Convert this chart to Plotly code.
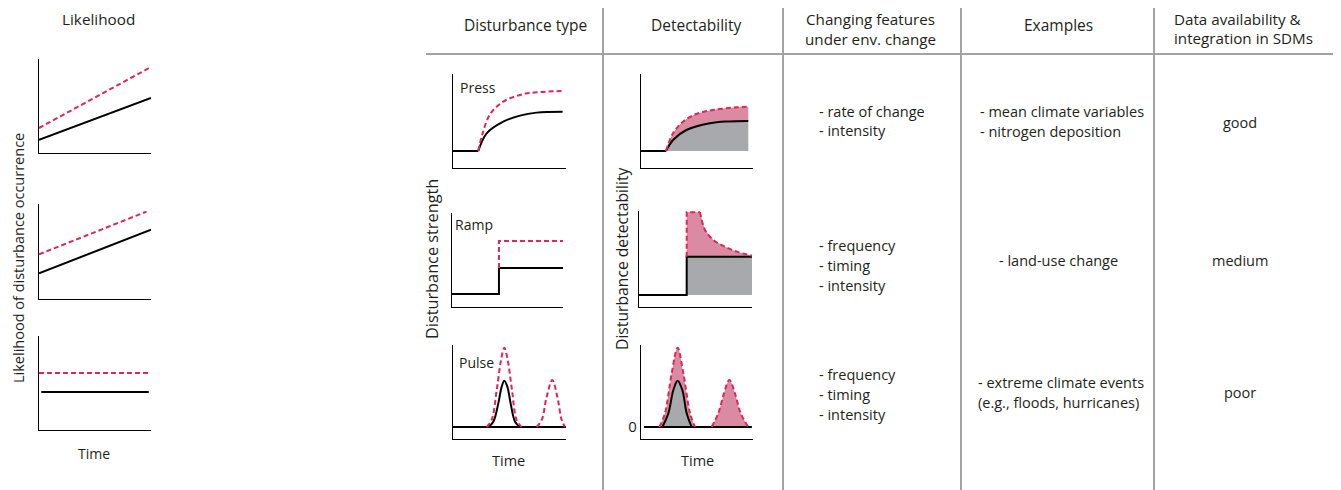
import plotly.graph_objects as go

W, H = 1341, 490          # reference picture size
OX, OY = 8, 8             # page body margin of the browser
FW, FH = W - OX, H - OY   # figure size actually drawn
RED = '#e2245a'
PINK = '#da8aa2'
GREY = '#a8a9ac'
RULE = '#a3a3a3'
INK = '#231f20'
FONT = 'Open Sans'

# ---------------- data (panel units 0..10) ----------------
# Likelihood panels
lik_x = [0, 10]
lik1_black = [1.4, 5.85]
lik1_red = [2.66, 9.15]
lik2_black = [2.7, 7.3]
lik2_red_x = [0, 9.6]
lik2_red = [4.7, 9.2]
lik3_x = [0.2, 9.8]
lik3_black = [4.04, 4.04]
lik3_red_x = [0, 9.8]
lik3_red = [6.06, 6.06]

# Disturbance type: press
press_flat_x = [0, 2.24]
press_flat_y = [1.81, 1.81]
press_black_x = [2.24, 2.98, 4.45, 5.93, 7.4, 9.7]
press_black_y = [1.81, 3.69, 4.93, 5.57, 5.89, 5.99]
press_red_x = [2.24, 2.6, 3.3, 4.45, 5.93, 7.4, 9.76]
press_red_y = [1.81, 3.6, 5.75, 7.06, 7.77, 8.05, 8.19]

# Disturbance type: ramp
ramp_black_x = [0, 4.23, 4.23, 10]
ramp_black_y = [1.38, 1.38, 4.15, 4.15]
ramp_red_x = [4.23, 4.23, 10]
ramp_red_y = [4.15, 7.02, 7.02]

# Disturbance type: pulse
pulse_base = 1.28
pulse_base_x = [0, 10]
pulse_black_x = [3.13, 3.57, 4.01, 4.31, 4.54, 4.81, 5.1, 5.49, 5.93]
pulse_black_y = [1.28, 1.84, 3.79, 5.57, 6.21, 5.57, 3.79, 1.84, 1.28]
pulse_red1_x = [2.98, 3.42, 3.87, 4.25, 4.54, 4.84, 5.22, 5.63, 6.08]
pulse_red1_y = [1.28, 2.02, 5.21, 8.4, 9.72, 8.4, 5.21, 2.02, 1.28]
pulse_red2_x = [7.4, 7.85, 8.29, 8.79, 9.23, 9.62, 9.91]
pulse_red2_y = [1.28, 2.02, 4.5, 6.28, 4.5, 2.02, 1.28]

# Detectability: press
dpress_flat_x = [0, 2.23]
dpress_flat_y = [1.81, 1.81]
dpress_base_x = [2.23, 9.58]
dpress_base_y = [1.81, 1.81]
dpress_black_x = [2.23, 2.86, 4.05, 6.16, 7.8, 9.58]
dpress_black_y = [1.81, 2.98, 4.04, 4.76, 4.95, 5.0]
dpress_red_x = [2.23, 2.86, 3.75, 4.94, 6.43, 8.51, 9.58]
dpress_red_y = [1.81, 3.69, 4.93, 5.74, 6.17, 6.45, 6.52]

# Detectability: ramp
dramp_black_x = [0, 4.22, 4.22, 10]
dramp_black_y = [1.28, 1.28, 5.35, 5.35]
dramp_fill_x = [4.22, 10]
dramp_base_y = [1.28, 1.28]
dramp_top_y = [5.35, 5.35]
dramp_step_x = [4.22, 4.22, 5.4]
dramp_step_y = [5.35, 10.08, 10.08]
dramp_decay_x = [5.4, 5.84, 6.58, 7.46, 8.65, 10]
dramp_decay_y = [10.08, 8.19, 7.13, 6.49, 5.88, 5.45]

# Detectability: pulse
dpulse_base_x = [0.27, 9.9]
dpulse_black_x = [1.9, 2.44, 2.89, 3.27, 3.69, 4.08, 4.52]
dpulse_black_y = [1.28, 2.73, 5.21, 6.2, 5.21, 2.73, 1.28]
dpulse_red1_x = [1.64, 2.14, 2.74, 3.27, 3.78, 4.38, 4.82]
dpulse_red1_y = [1.28, 2.73, 6.99, 9.72, 6.99, 2.73, 1.28]
dpulse_red2_x = [6.31, 6.9, 7.41, 7.89, 8.39, 8.9, 9.58]
dpulse_red2_y = [1.28, 2.73, 4.86, 6.28, 4.86, 2.73, 1.28]


def pxx(px):
    return (px - OX) / FW


def pxy(py):
    return 1 - (py - OY) / FH


# ---------------- panels: (left, right, top, bottom) in reference pixels, y max ----------------
panels = {
    1: (39, 151, 59, 153, 10),
    2: (39, 151, 204, 299, 10),
    3: (39, 151, 336, 430, 10),
    4: (453, 566, 74, 168, 10),
    5: (452, 563, 213, 307, 10),
    6: (453, 566, 345, 439, 10),
    7: (641, 753, 74, 168, 10),
    8: (639, 752, 211, 307, 10.2),
    9: (641, 753, 345, 439, 10),
}

fig = go.Figure()
layout_axes = {}
for i, (x0, x1, yt, yb, ymax) in panels.items():
    sfx = '' if i == 1 else str(i)
    layout_axes['xaxis' + sfx] = dict(
        domain=[pxx(x0), pxx(x1)], range=[0, 10], anchor='y' + sfx,
        showline=True, linecolor='black', linewidth=1.2, showgrid=False,
        zeroline=False, showticklabels=False, ticks='', fixedrange=True)
    layout_axes['yaxis' + sfx] = dict(
        domain=[pxy(yb), pxy(yt)], range=[0, ymax], anchor='x' + sfx,
        showline=True, linecolor='black', linewidth=1.2, showgrid=False,
        zeroline=False, showticklabels=False, ticks='', fixedrange=True)

layout_axes['yaxis9'].update(showticklabels=True, tickvals=[pulse_base],
                             ticktext=['0'], tickfont=dict(family=FONT, size=15, color=INK))


def ax(i):
    s = '' if i == 1 else str(i)
    return dict(xaxis='x' + s, yaxis='y' + s)


def line(i, x, y, color='black', dash=None, shape='linear', width=2.0):
    fig.add_trace(go.Scatter(x=x, y=y, mode='lines',
                             line=dict(color=color, width=width, dash=dash, shape=shape),
                             hoverinfo='skip', showlegend=False, **ax(i)))


def red(i, x, y, shape='linear'):
    line(i, x, y, color=RED, dash='5px,3px', shape=shape, width=2.0)


def fill(i, x, y, color, mode='toself', shape='linear'):
    fig.add_trace(go.Scatter(x=x, y=y, mode='lines', fill=mode, fillcolor=color,
                             line=dict(width=0, shape=shape, color=color),
                             hoverinfo='skip', showlegend=False, **ax(i)))


# Likelihood panels
line(1, lik_x, lik1_black)
red(1, lik_x, lik1_red)
line(2, lik_x, lik2_black)
red(2, lik2_red_x, lik2_red)
line(3, lik3_x, lik3_black)
red(3, lik3_red_x, lik3_red)

# Disturbance type
line(4, press_flat_x, press_flat_y)
line(4, press_black_x, press_black_y, shape='spline')
red(4, press_red_x, press_red_y, shape='spline')

line(5, ramp_black_x, ramp_black_y)
red(5, ramp_red_x, ramp_red_y)

line(6, pulse_base_x, [pulse_base, pulse_base])
line(6, pulse_black_x, pulse_black_y, shape='spline')
red(6, pulse_red1_x, pulse_red1_y, shape='spline')
red(6, pulse_red2_x, pulse_red2_y, shape='spline')

# Detectability: press
fill(7, dpress_base_x, dpress_base_y, 'rgba(0,0,0,0)', mode='none')
fill(7, dpress_black_x, dpress_black_y, GREY, mode='tonexty', shape='spline')
fill(7, dpress_red_x, dpress_red_y, PINK, mode='tonexty', shape='spline')
line(7, dpress_flat_x, dpress_flat_y)
line(7, dpress_black_x, dpress_black_y, shape='spline')
red(7, dpress_red_x, dpress_red_y, shape='spline')

# Detectability: ramp
fill(8, dramp_fill_x, dramp_base_y, 'rgba(0,0,0,0)', mode='none')
fill(8, dramp_fill_x, dramp_top_y, GREY, mode='tonexty')
fill(8, dramp_step_x + dramp_decay_x[1:], dramp_step_y + dramp_decay_y[1:], PINK, mode='tonexty')
line(8, dramp_black_x, dramp_black_y)
red(8, dramp_step_x, dramp_step_y)
red(8, dramp_decay_x, dramp_decay_y, shape='spline')

# Detectability: pulse
fill(9, dpulse_red1_x, dpulse_red1_y, PINK, shape='spline')
fill(9, dpulse_black_x, dpulse_black_y, GREY, shape='spline')
fill(9, dpulse_red2_x, dpulse_red2_y, PINK, shape='spline')
line(9, dpulse_base_x, [pulse_base, pulse_base])
line(9, dpulse_black_x, dpulse_black_y, shape='spline')
red(9, dpulse_red1_x, dpulse_red1_y, shape='spline')
red(9, dpulse_red2_x, dpulse_red2_y, shape='spline')


# ---------------- text ----------------
def text(px, py, s, size=14.5, xanchor='center', angle=0):
    fig.add_annotation(x=pxx(px), y=pxy(py), xref='paper', yref='paper', text=s,
                       showarrow=False, xanchor=xanchor, yanchor='middle', textangle=angle,
                       borderpad=0, font=dict(family=FONT, size=size, color=INK))


text(98, 19, 'Likelihood', 15.3)
text(94, 453, 'Time', 14)
text(18, 258, 'Likelihood of disturbance occurrence', 14.5, angle=-90)

text(525, 25, 'Disturbance type', 15.5)
text(696, 25, 'Detectability', 15.5)
text(870, 19, 'Changing features', 15.2)
text(870, 39, 'under env. change', 15.2)
text(1058, 25, 'Examples', 15.5)
text(1173, 18.5, 'Data availability &', 15.2, xanchor='left')
text(1173, 38, 'integration in SDMs', 15.2, xanchor='left')

text(432, 259, 'Disturbance strength', 16.3, angle=-90)
text(622, 259, 'Disturbance detectability', 15.7, angle=-90)
text(508, 460, 'Time', 14.5)
text(697, 460, 'Time', 14.5)

text(459, 88, 'Press', 14, xanchor='left')
text(454, 225, 'Ramp', 14, xanchor='left')
text(458, 362, 'Pulse', 14, xanchor='left')

feat_rows = [
    (['- rate of change', '- intensity'], 111),
    (['- frequency', '- timing', '- intensity'], 245),
    (['- frequency', '- timing', '- intensity'], 374),
]
for lines, y0 in feat_rows:
    for k, s in enumerate(lines):
        text(818, y0 + 20 * k, s, 14.5, xanchor='left')

text(979, 111, '- mean climate variables', 14.5, xanchor='left')
text(979, 132, '- nitrogen deposition', 14.5, xanchor='left')
text(1058, 260, '- land-use change', 14.5)
text(977, 382, '- extreme climate events', 14.5, xanchor='left')
text(977, 402, '(e.g., floods, hurricanes)', 14.5, xanchor='left')

text(1240, 122, 'good', 14.5)
text(1240, 260, 'medium', 14.5)
text(1240, 392, 'poor', 14.5)

# ---------------- table rules ----------------
shapes = [dict(type='line', xref='paper', yref='paper', x0=pxx(426), x1=1.0,
               y0=pxy(54), y1=pxy(54), line=dict(color=RULE, width=2))]
for vx in [603, 783, 961, 1154]:
    shapes.append(dict(type='line', xref='paper', yref='paper', x0=pxx(vx), x1=pxx(vx),
                       y0=pxy(8), y1=0, line=dict(color=RULE, width=2)))

fig.update_layout(width=FW, height=FH, margin=dict(l=0, r=0, t=0, b=0),
                  paper_bgcolor='white', plot_bgcolor='white', showlegend=False,
                  shapes=shapes, **layout_axes)

fig.write_html('out.html')
